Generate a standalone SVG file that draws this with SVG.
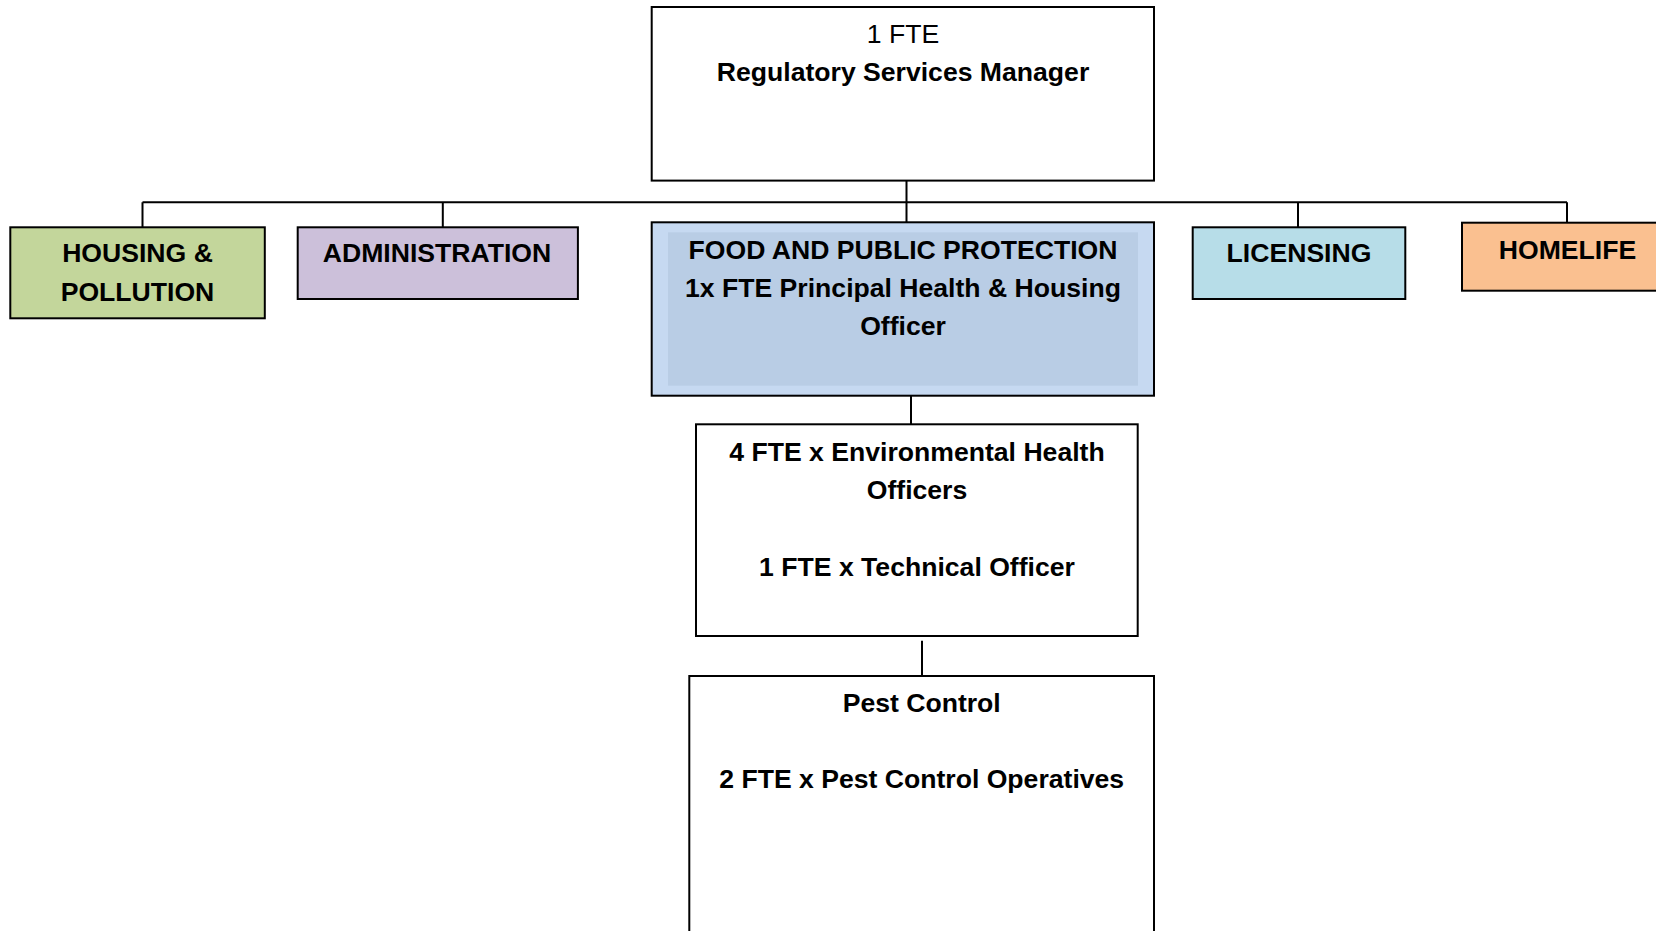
<svg xmlns="http://www.w3.org/2000/svg" width="1656" height="931" viewBox="0 0 1656 931">
<style>
.box{stroke:#000;stroke-width:2}
.t{font-family:"Liberation Sans",Arial,sans-serif;font-size:26.6px;font-weight:bold;text-anchor:middle;fill:#000}
.r{font-weight:normal}
.c{stroke:#000;stroke-width:2;fill:none}
</style>
<rect width="1656" height="931" fill="#fff"/>
<g id="connectors">
<path class="c" d="M906.5,180.6V202.3M142.5,202.3H1567M142.5,202.3V227.3M442.8,202.3V227.3M906.5,202.3V222.3M1298,202.3V227.3M1567,202.3V222.7M911,395.7V424.3M922,640.7V676"/>
</g>
<g id="manager">
<rect class="box" x="651.7" y="7" width="502.3" height="173.6" fill="#fff"/>
<text class="t r" x="903" y="42.5">1 FTE</text>
<text class="t" x="903" y="81">Regulatory Services Manager</text>
</g>
<g id="housing">
<rect class="box" x="10.3" y="227.3" width="254.5" height="91" fill="#c3d69b"/>
<text class="t" x="137.5" y="262.2">HOUSING &amp;</text>
<text class="t" x="137.5" y="300.5">POLLUTION</text>
</g>
<g id="administration">
<rect class="box" x="297.7" y="227.3" width="280.2" height="71.7" fill="#ccc0da"/>
<text class="t" x="437" y="262.2">ADMINISTRATION</text>
</g>
<g id="food">
<rect class="box" x="651.7" y="222.3" width="502.3" height="173.4" fill="#c6d9f1"/>
<rect x="668" y="232.3" width="470" height="153.4" fill="#b9cde5"/>
<text class="t" x="903" y="258.8">FOOD AND PUBLIC PROTECTION</text>
<text class="t" x="903" y="297.2">1x FTE Principal Health &amp; Housing</text>
<text class="t" x="903" y="334.6">Officer</text>
</g>
<g id="licensing">
<rect class="box" x="1192.7" y="227.3" width="212.6" height="71.7" fill="#b7dde8"/>
<text class="t" x="1299" y="262.2">LICENSING</text>
</g>
<g id="homelife">
<rect class="box" x="1462" y="222.7" width="220" height="68" fill="#fac090"/>
<text class="t" x="1567.5" y="258.8">HOMELIFE</text>
</g>
<g id="officers">
<rect class="box" x="696" y="424.3" width="441.7" height="211.7" fill="#fff"/>
<text class="t" x="917" y="460.5">4 FTE x Environmental Health</text>
<text class="t" x="917" y="498.9">Officers</text>
<text class="t" x="917" y="575.5">1 FTE x Technical Officer</text>
</g>
<g id="pest">
<rect class="box" x="689.3" y="676" width="464.7" height="280" fill="#fff"/>
<text class="t" x="921.7" y="711.5">Pest Control</text>
<text class="t" x="921.7" y="787.8">2 FTE x Pest Control Operatives</text>
</g>
</svg>
